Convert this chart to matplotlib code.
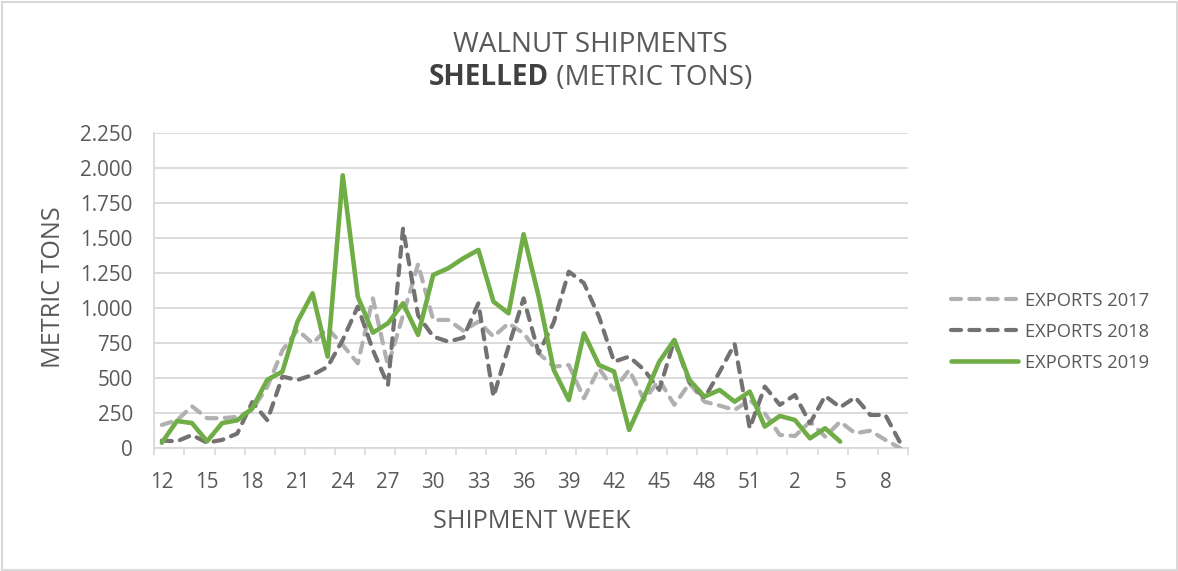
import matplotlib
matplotlib.use("Agg")
import matplotlib.pyplot as plt
import numpy as np
from matplotlib.patches import Rectangle

# ---------------- data ----------------
weeks = [str(w) for w in list(range(12, 53)) + list(range(1, 10))]

exports_2017 = [167, 200, 300, 215, 215, 225, 275, 440, 700, 845,
                750, 857, 738, 607, 1071, 590, 950, 1315, 917, 917,
                840, 905, 798, 893, 821, 679, 583, 595, 357, 571,
                417, 560, 345, 488, 310, 464, 333, 305, 274, 345,
                250, 95, 88, 190, 83, 190, 107, 126, 60, 0]

exports_2018 = [55, 50, 95, 40, 60, 105, 330, 200, 512, 488,
                524, 583, 774, 1012, 702, 452, 1570, 950, 798, 762,
                790, 1036, 369, 726, 1071, 680, 900, 1262, 1180, 940,
                619, 655, 560, 417, 774, 470, 360, 545, 745, 143,
                441, 310, 381, 179, 374, 293, 364, 238, 238, 36]

exports_2019 = [40, 195, 180, 50, 180, 200, 285, 490, 548, 905,
                1107, 655, 1950, 1083, 826, 893, 1036, 810, 1238, 1286,
                1357, 1417, 1048, 964, 1529, 1083, 560, 345, 821, 595,
                548, 131, 369, 619, 774, 488, 369, 417, 333, 405,
                155, 231, 202, 71, 143, 48]

series_labels = ["EXPORTS 2017", "EXPORTS 2018", "EXPORTS 2019"]
y_ticks = list(range(0, 2251, 250))

# ---------------- style ----------------
plt.rcParams['font.family'] = ['Open Sans', 'DejaVu Sans']
TXT = '#595959'
GRID = '#d9d9d9'
W, H = 1178, 571

fig = plt.figure(figsize=(W / 100, H / 100), dpi=100)
fig.patch.set_facecolor('white')
fig.canvas.draw()
R = fig.canvas.get_renderer()


def fitted_size(s, target_px, weight='normal', base=14.0):
    t = fig.text(0, 0, s, fontsize=base, fontweight=weight)
    w = t.get_window_extent(R).width
    t.remove()
    return base * target_px / w


tick_fs = fitted_size("2.250", 53.0)
leg_fs = fitted_size("EXPORTS 2017", 125.0)
axis_fs = fitted_size("SHIPMENT WEEK", 197.0)
title_fs = fitted_size("WALNUT SHIPMENTS", 274.0)

x0, x1 = 154.3, 908.0
ytop, ybot = 133.3, 448.3
ax = fig.add_axes([x0 / W, 1 - ybot / H, (x1 - x0) / W, (ybot - ytop) / H])

x_all = np.arange(len(weeks))
dash = (0, (2.4, 2.0))
ax.plot(np.arange(len(exports_2017)), exports_2017, color='#b0b0b0', lw=3,
        ls=dash, dash_capstyle='round', label=series_labels[0], zorder=3)
ax.plot(np.arange(len(exports_2018)), exports_2018, color='#757171', lw=3,
        ls=dash, dash_capstyle='round', label=series_labels[1], zorder=4)
ax.plot(np.arange(len(exports_2019)), exports_2019, color='#70ad47', lw=3.3,
        solid_capstyle='round', label=series_labels[2], zorder=5)

ax.set_xlim(-0.5, len(weeks) - 0.5)
ax.set_ylim(0, 2250)

ax.set_xticks(x_all[::3])
ax.set_xticklabels(weeks[::3])
ax.set_xticks(np.arange(-0.5, len(weeks), 2), minor=True)
ax.tick_params(axis='x', which='major', length=0, pad=17, labelsize=tick_fs, labelcolor=TXT)
ax.tick_params(axis='x', which='minor', length=5, width=1.2, color=GRID, direction='out')

ax.set_yticks(y_ticks)
ax.set_yticklabels([f"{v:,}".replace(',', '.') for v in y_ticks])
ax.tick_params(axis='y', length=0, pad=15.5, labelsize=tick_fs, labelcolor=TXT)

ax.grid(axis='y', color=GRID, lw=1.3)
ax.set_axisbelow(True)
for s in ['top', 'right']:
    ax.spines[s].set_visible(False)
for s in ['left', 'bottom']:
    ax.spines[s].set_color(GRID)
    ax.spines[s].set_linewidth(1.3)

# axis titles
fig.text(531.7 / W, 1 - 528.3 / H, "SHIPMENT WEEK", ha='center', va='baseline',
         fontsize=axis_fs, color=TXT)
fig.text(54.0 / W, 1 - 287.5 / H, "METRIC TONS", ha='center', va='center',
         rotation=90, fontsize=axis_fs, color=TXT)

# title
fig.text(590 / W, 1 - 51.7 / H, "WALNUT SHIPMENTS", ha='center', va='baseline',
         fontsize=title_fs, color=TXT)
t_bold = fig.text(0, 1 - 85 / H, "SHELLED", ha='left', va='baseline',
                  fontsize=title_fs, color='#404040', fontweight='bold')
t_norm = fig.text(0, 1 - 85 / H, " (METRIC TONS)", ha='left', va='baseline',
                  fontsize=title_fs, color=TXT)
wb = t_bold.get_window_extent(R).width
wn = t_norm.get_window_extent(R).width
start = 591 - (wb + wn) / 2
t_bold.set_x(start / W)
t_norm.set_x((start + wb) / W)

# legend
leg = fig.legend(loc='center left', bbox_to_anchor=(951 / W, 1 - 331.8 / H),
                 bbox_transform=fig.transFigure, frameon=False, fontsize=leg_fs,
                 handlelength=3.57 * 13.5 / leg_fs, handletextpad=0.37 * 13.5 / leg_fs,
                 labelspacing=0.7 * 13.5 / leg_fs, borderpad=0, borderaxespad=0)
for t in leg.get_texts():
    t.set_color(TXT)

# outer frame
fig.patches.append(Rectangle((1.5 / W, 1.5 / H), 1 - 3 / W, 1 - 3 / H,
                             transform=fig.transFigure, fill=False,
                             edgecolor=GRID, lw=1.5))

fig.savefig("out.png", dpi=100)
